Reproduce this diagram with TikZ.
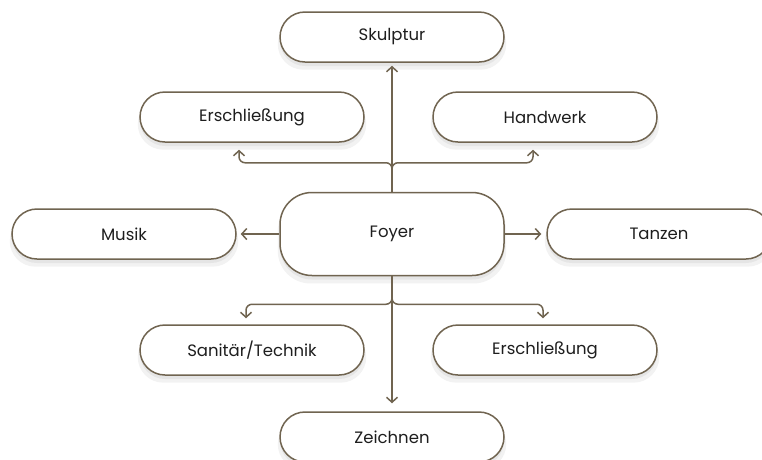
\documentclass[tikz,border=0pt]{standalone}
\usepackage{fontspec}
\setmainfont{Poppins}
\usetikzlibrary{arrows.meta,shadows,calc}
\definecolor{edge}{HTML}{706450}
\definecolor{ink}{HTML}{1E1E1E}
\tikzset{
  pill/.style={draw=edge, line width=1.5pt, fill=white, text=ink,
    minimum width=224pt, minimum height=50pt, rounded corners=25pt,
    font=\fontsize{16.5}{19}\selectfont, inner sep=0pt,
    drop shadow={shadow xshift=0pt, shadow yshift=-7pt, opacity=0.05, fill=black, shadow scale=1.02},
    drop shadow={shadow xshift=0pt, shadow yshift=-4pt, opacity=0.05, fill=black}},
  hub/.style={pill, minimum height=83pt, rounded corners=32pt},
  arr/.style={draw=edge, line width=1.5pt, -{Straight Barb[length=5pt,width=11pt,line width=1.5pt]}},
}
\begin{document}
\begin{tikzpicture}[x=1pt,y=1pt]
\useasboundingbox (0,0) rectangle (762,-459);
\fill[white] (0,0) rectangle (762,-459);
\node[pill] (sk) at (392,-37) {Skulptur};
\node[pill] (e1) at (252,-117) {Erschließung};
\node[pill] (hw) at (545,-117) {Handwerk};
\node[hub]  (fo) at (392,-234) {Foyer};
\node[pill] (mu) at (124,-234) {Musik};
\node[pill] (ta) at (659,-234) {Tanzen};
\node[pill] (sa) at (252,-350) {Sanitär/Technik};
\node[pill] (e2) at (545,-350) {Erschließung};
\node[pill] (ze) at (392,-437) {Zeichnen};
% vertical connectors
\draw[arr] (fo.north) -- ($(sk.south)+(0,-3)$);
\draw[arr] (fo.south) -- ($(ze.north)+(0,8)$);
% horizontal
\draw[arr] (fo.west) -- ($(mu.east)+(4,0)$);
\draw[arr] (fo.east) -- ($(ta.west)+(-5,0)$);
% top branches
\draw[arr, rounded corners=6pt] (fo.north) |- ($(e1.south)+(-13,-20)$) -- ($(e1.south)+(-13,-7)$);
\draw[arr, rounded corners=6pt] (fo.north) |- ($(hw.south)+(-12,-20)$) -- ($(hw.south)+(-12,-7)$);
% bottom branches
\draw[arr, rounded corners=6pt] (fo.south) |- ($(sa.north)+(-6,20)$) -- ($(sa.north)+(-6,6)$);
\draw[arr, rounded corners=6pt] (fo.south) |- ($(e2.north)+(-2,20)$) -- ($(e2.north)+(-2,6)$);
\end{tikzpicture}
\end{document}
